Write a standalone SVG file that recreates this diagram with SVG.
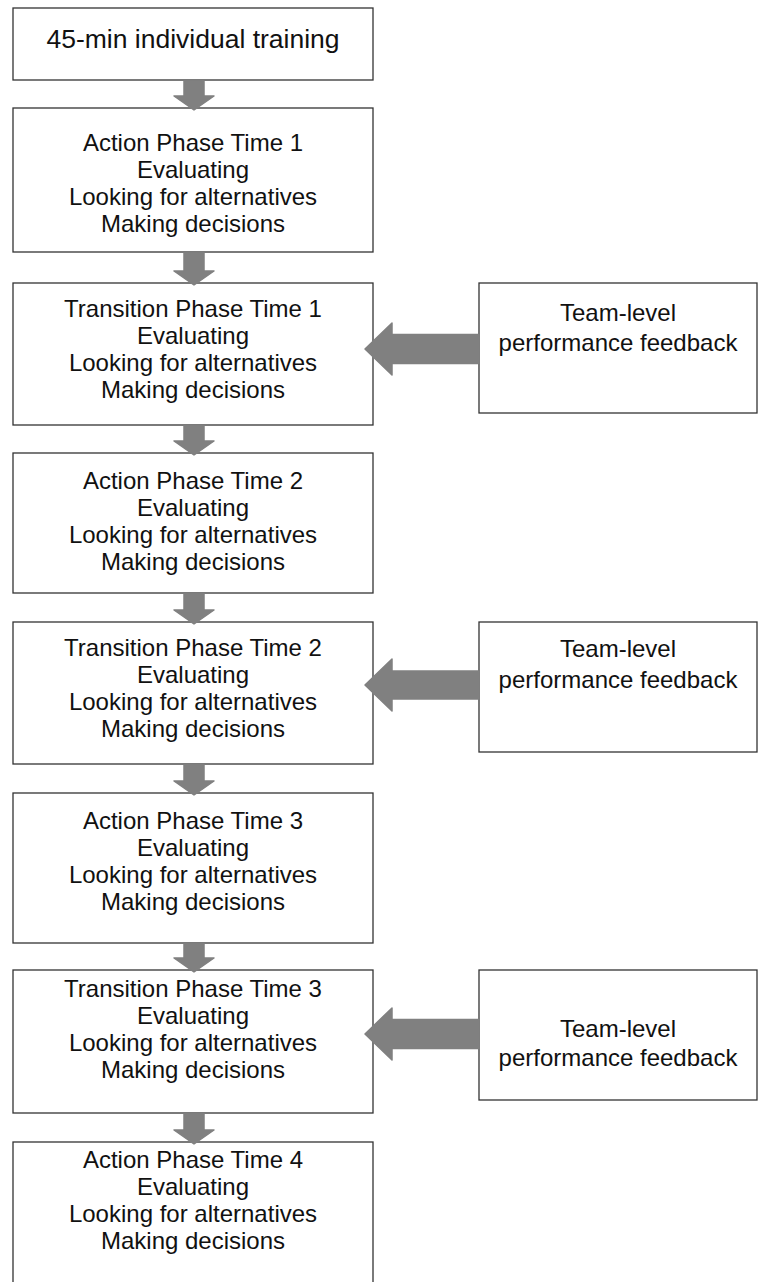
<svg xmlns="http://www.w3.org/2000/svg" width="758" height="1282" viewBox="0 0 758 1282">
<style>
.box{fill:#ffffff;stroke:#333333;stroke-width:1.3}
.t{font-family:"Liberation Sans",Arial,sans-serif;font-size:24px;fill:#111111;text-anchor:middle}
.t1{font-size:26.5px}
.arr{fill:#808080;stroke:#808080;stroke-width:1.5;stroke-linejoin:round}
</style>
<rect width="758" height="1282" fill="#ffffff"/>
<g id="n0"><rect class="box" x="13" y="8" width="360" height="72"/><text class="t t1" x="193" y="48">45-min individual training</text></g>
<g id="n1"><rect class="box" x="13" y="108" width="360" height="144"/>
<text class="t" x="193" y="151">Action Phase Time 1</text><text class="t" x="193" y="178">Evaluating</text><text class="t" x="193" y="205">Looking for alternatives</text><text class="t" x="193" y="232">Making decisions</text></g>
<g id="n2"><rect class="box" x="13" y="283" width="360" height="142"/>
<text class="t" x="193" y="317">Transition Phase Time 1</text><text class="t" x="193" y="344">Evaluating</text><text class="t" x="193" y="371">Looking for alternatives</text><text class="t" x="193" y="398">Making decisions</text></g>
<g id="n3"><rect class="box" x="13" y="453" width="360" height="140"/>
<text class="t" x="193" y="489">Action Phase Time 2</text><text class="t" x="193" y="516">Evaluating</text><text class="t" x="193" y="543">Looking for alternatives</text><text class="t" x="193" y="570">Making decisions</text></g>
<g id="n4"><rect class="box" x="13" y="622" width="360" height="142"/>
<text class="t" x="193" y="656">Transition Phase Time 2</text><text class="t" x="193" y="683">Evaluating</text><text class="t" x="193" y="710">Looking for alternatives</text><text class="t" x="193" y="737">Making decisions</text></g>
<g id="n5"><rect class="box" x="13" y="793" width="360" height="150"/>
<text class="t" x="193" y="829">Action Phase Time 3</text><text class="t" x="193" y="856">Evaluating</text><text class="t" x="193" y="883">Looking for alternatives</text><text class="t" x="193" y="910">Making decisions</text></g>
<g id="n6"><rect class="box" x="13" y="970" width="360" height="143"/>
<text class="t" x="193" y="997">Transition Phase Time 3</text><text class="t" x="193" y="1024">Evaluating</text><text class="t" x="193" y="1051">Looking for alternatives</text><text class="t" x="193" y="1078">Making decisions</text></g>
<g id="n7"><rect class="box" x="13" y="1142" width="360" height="160"/>
<text class="t" x="193" y="1168">Action Phase Time 4</text><text class="t" x="193" y="1195">Evaluating</text><text class="t" x="193" y="1222">Looking for alternatives</text><text class="t" x="193" y="1249">Making decisions</text></g>
<g id="f1"><rect class="box" x="479" y="283" width="278" height="130"/>
<text class="t" x="618" y="321">Team-level</text><text class="t" x="618" y="351">performance feedback</text></g>
<g id="f2"><rect class="box" x="479" y="622" width="278" height="130"/>
<text class="t" x="618" y="657">Team-level</text><text class="t" x="618" y="688">performance feedback</text></g>
<g id="f3"><rect class="box" x="479" y="970" width="278" height="130"/>
<text class="t" x="618" y="1037">Team-level</text><text class="t" x="618" y="1066">performance feedback</text></g>
<g id="connectors">
<path class="arr" d="M184,81 H204 V96 H214 L194,110 L174,96 H184 Z"/>
<path class="arr" d="M184,253 H204 V271 H214 L194,285 L174,271 H184 Z"/>
<path class="arr" d="M184,426 H204 V441 H214 L194,455 L174,441 H184 Z"/>
<path class="arr" d="M184,594 H204 V610 H214 L194,624 L174,610 H184 Z"/>
<path class="arr" d="M184,765 H204 V781 H214 L194,795 L174,781 H184 Z"/>
<path class="arr" d="M184,944 H204 V958 H214 L194,972 L174,958 H184 Z"/>
<path class="arr" d="M184,1114 H204 V1130 H214 L194,1144 L174,1130 H184 Z"/>
<path class="arr" d="M479,334.5 H392 V323 L365,349 L392,375 V363.5 H479 Z"/>
<path class="arr" d="M479,671 H392 V659 L365,685 L392,711 V699 H479 Z"/>
<path class="arr" d="M479,1019.5 H392 V1008 L365,1034 L392,1060 V1048.5 H479 Z"/>
</g>
</svg>
